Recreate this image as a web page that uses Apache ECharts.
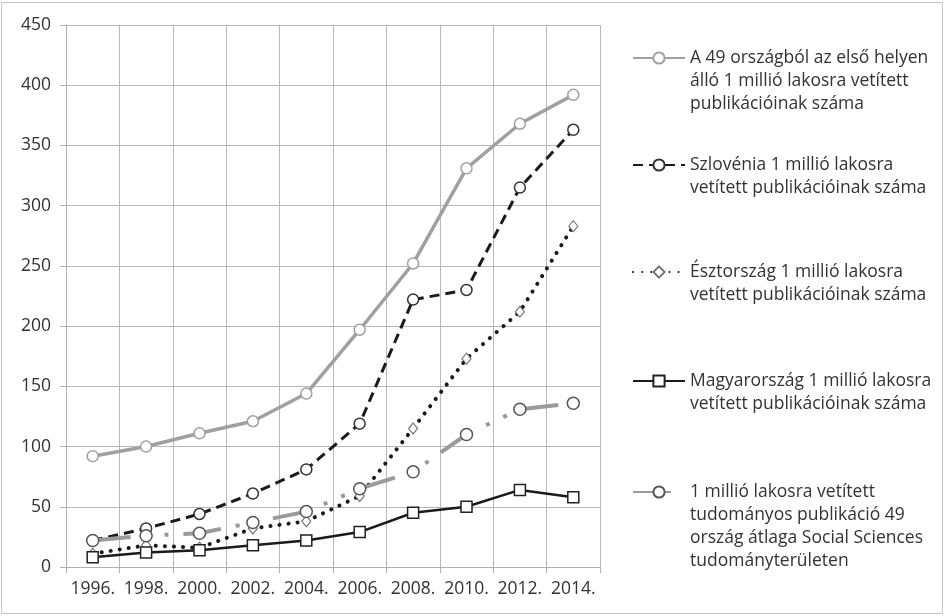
<!DOCTYPE html>
<html>
<head>
<meta charset="utf-8">
<script src="https://cdn.jsdelivr.net/npm/echarts@6/dist/echarts.min.js"></script>
<style>
    html, body { margin: 0; padding: 0; background: #fff; }
    #chart { width: 945px; height: 616px; }
</style>
</head>
<body>
<div id="chart"></div>
<script>
    // évek (x tengely)
    var years = ['1996.', '1998.', '2000.', '2002.', '2004.', '2006.', '2008.', '2010.', '2012.', '2014.'];
    var yTicks = [0, 50, 100, 150, 200, 250, 300, 350, 400, 450];

    // 1 millió lakosra vetített publikációk
    var elsoHely = [92, 100, 111, 121, 144, 197, 252, 331, 368, 392];
    var szlovenia = [22, 32, 44, 61, 81, 119, 222, 230, 315, 363];
    var esztorszag = [11, 18, 16, 32, 38, 59, 115, 173, 212, 283];
    var magyarorszag = [8, 12, 14, 18, 22, 29, 45, 50, 64, 58];
    var atlag = [22, 26, 28, 37, 46, 65, 79, 110, 131, 136];

    var names = [
        'A 49 országból az első helyen álló 1 millió lakosra vetített publikációinak száma',
        'Szlovénia 1 millió lakosra vetített publikációinak száma',
        'Észtország 1 millió lakosra vetített publikációinak száma',
        'Magyarország 1 millió lakosra vetített publikációinak száma',
        '1 millió lakosra vetített tudományos publikáció 49 ország átlaga Social Sciences tudományterületen'
    ];
    var wrapped = [
        ['A 49 országból az első helyen', 'álló 1 millió lakosra vetített', 'publikációinak száma'],
        ['Szlovénia 1 millió lakosra', 'vetített publikációinak száma'],
        ['Észtország 1 millió lakosra', 'vetített publikációinak száma'],
        ['Magyarország 1 millió lakosra', 'vetített publikációinak száma'],
        ['1 millió lakosra vetített', 'tudományos publikáció 49', 'ország átlaga Social Sciences', 'tudományterületen']
    ];
    var legendIconY = [58, 165, 272, 381, 492];

    var lineH = 23;
    var legends = names.map(function (name, i) {
        var n = wrapped[i].length;
        // üres sorok elöl, hogy az ikon az első sorhoz igazodjon
        var pad = [];
        for (var k = 0; k < n - 1; k++) pad.push(' ');
        var label = pad.concat(wrapped[i]).join('\n');
        return {
            data: [name],
            left: 632,
            top: legendIconY[i] - (2 * n - 1) * lineH / 2,
            padding: 0,
            itemWidth: 52,
            itemHeight: 14,
            itemGap: 0,
            selectedMode: false,
            formatter: function () { return label; },
            textStyle: {
                fontFamily: 'Open Sans',
                fontSize: 17.5,
                color: '#333',
                lineHeight: lineH
            }
        };
    });

    var chart = echarts.init(document.getElementById('chart'));
    chart.setOption({
        animation: false,
        backgroundColor: '#fff',
        graphic: [{
            type: 'rect',
            shape: { x: 1.5, y: 2.5, width: 941, height: 611 },
            style: { fill: 'none', stroke: '#c4c4c4', lineWidth: 1 },
            silent: true
        }],
        legend: legends,
        grid: { left: 66, right: 345, top: 25, bottom: 49 },
        xAxis: {
            type: 'category',
            data: years,
            boundaryGap: true,
            axisLine: { lineStyle: { color: '#b0b0b0', width: 1 } },
            axisTick: { show: true, interval: 0, length: 6, lineStyle: { color: '#b0b0b0' } },
            axisLabel: { interval: 0, hideOverlap: false, margin: 13, fontFamily: 'Open Sans', fontSize: 17.5, color: '#333' },
            splitLine: { show: true, interval: 0, lineStyle: { color: '#b8b8b8', width: 1 } }
        },
        yAxis: {
            type: 'value',
            min: yTicks[0],
            max: yTicks[yTicks.length - 1],
            interval: 50,
            axisLine: { show: true, lineStyle: { color: '#b0b0b0', width: 1 } },
            axisTick: { show: true, length: 6, lineStyle: { color: '#b0b0b0' } },
            axisLabel: { margin: 15, fontFamily: 'Open Sans', fontSize: 17.5, color: '#333' },
            splitLine: { show: true, lineStyle: { color: '#b8b8b8', width: 1 } }
        },
        series: [
            {
                name: names[0],
                type: 'line',
                data: elsoHely,
                symbol: 'circle',
                symbolSize: 11,
                lineStyle: { color: '#a0a0a0', width: 3.5 },
                itemStyle: { color: '#fff', borderColor: '#a0a0a0', borderWidth: 1.5 }
            },
            {
                name: names[1],
                type: 'line',
                data: szlovenia,
                symbol: 'circle',
                symbolSize: 11,
                lineStyle: { color: '#1a1a1a', width: 3, type: [10, 6] },
                itemStyle: { color: '#fff', borderColor: '#333', borderWidth: 1.5 }
            },
            {
                name: names[2],
                type: 'line',
                data: esztorszag,
                symbol: 'diamond',
                symbolSize: [9, 11],
                lineStyle: { color: '#1a1a1a', width: 4, type: [0.1, 9], cap: 'round' },
                itemStyle: { color: '#fff', borderColor: '#777', borderWidth: 1.2 }
            },
            {
                name: names[3],
                type: 'line',
                data: magyarorszag,
                symbol: 'rect',
                symbolSize: 11,
                lineStyle: { color: '#1a1a1a', width: 2.5 },
                itemStyle: { color: '#fff', borderColor: '#222', borderWidth: 1.5 }
            },
            {
                name: names[4],
                type: 'line',
                data: atlag,
                symbol: 'circle',
                symbolSize: 12,
                lineStyle: { color: '#9a9a9a', width: 4, type: [38, 15, 4, 15, 4, 15] },
                itemStyle: { color: '#fff', borderColor: '#555', borderWidth: 1.5 }
            }
        ]
    });
</script>
</body>
</html>
